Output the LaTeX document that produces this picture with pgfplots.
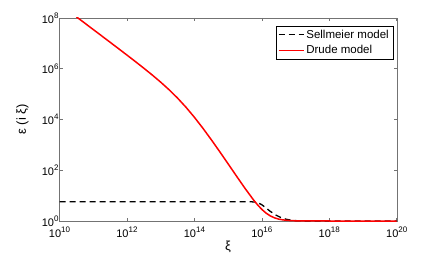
\documentclass[border=0pt]{standalone}
\usepackage{fontspec}
\setmainfont{Liberation Sans}
\usepackage{pgfplots}
\pgfplotsset{compat=1.18}
\newcommand\ex[1]{10\raisebox{0.42em}{\fontsize{8}{9}\selectfont #1}}
\begin{document}
\begin{tikzpicture}
\begin{axis}[name=ax,
  scale only axis, width=337.2pt, height=203pt,
  xmode=log, ymode=log,
  xmin=1e10, xmax=1e20, ymin=1, ymax=1e8,
  xtick={1e10,1e12,1e14,1e16,1e18,1e20},
  xticklabels={\ex{10},\ex{12},\ex{14},\ex{16},\ex{18},\ex{20}},
  ytick={1,1e2,1e4,1e6,1e8},
  yticklabels={\ex{0},\ex{2},\ex{4},\ex{6},\ex{8}},
  xminorticks=false, yminorticks=false,
  tick align=inside, major tick length=3pt,
  axis line style={black!55},
  every tick/.style={black!55, line width=0.6pt},
  tick label style={font=\fontsize{11}{12}\selectfont},
  xticklabel style={yshift=-2.5pt},
  yticklabel style={xshift=2.5pt},
  xlabel={ξ}, ylabel={ε (i ξ)},
  label style={font=\fontsize{13}{15}\selectfont},
  xlabel style={yshift=3pt},
  ylabel style={at={(axis description cs:-0.11,0.5)}, anchor=center, rotate=0},
  legend style={at={(0.989,0.962)}, anchor=north east, draw=black,
    font=\fontsize{11.5}{13}\selectfont, inner xsep=2pt, inner ysep=2pt, row sep=1.5pt},
  legend cell align=left,
  legend image code/.code={\draw[#1, line width=1.3pt] (0pt,0pt) -- (25pt,0pt);},
  clip=true,
]
\addplot[black, line width=1.3pt, dash pattern=on 6pt off 4pt] coordinates {
(1e10,5.70) (5.0119e15,5.70) (6.3096e15,5.56) (7.9433e15,5.13) (1e16,4.37)
(1.2589e16,3.47) (1.7783e16,2.40) (2.5119e16,1.76) (3.5481e16,1.40)
(5.0119e16,1.19) (7.0795e16,1.084) (1e17,1.035) (1.5849e17,1.012)
(3.1623e17,1.002) (1e20,1.0)
};
\addlegendentry{Sellmeier model}
\addplot[red, line width=1.5pt] coordinates {
(3.1623e10,1.115e8) (5.6234e10,6.268e7) (1e11,3.521e7) (1.7783e11,1.9776e7)
(3.1623e11,1.109e7) (5.6234e11,6.209e6) (1e12,3.463e6) (1.7783e12,1.920e6)
(3.1623e12,1.053e6) (5.6234e12,5.675e5) (1e13,2.970e5) (1.7783e13,1.4869e5)
(3.1623e13,6.998e4) (5.6234e13,3.050e4) (1e14,1.2251e4) (1.7783e14,4570)
(3.1623e14,1608) (5.6234e14,543.2) (1e15,179.2) (1.7783e15,58.63)
(3.1623e15,19.46) (5.6234e15,6.88) (7.4989e15,4.314) (1e16,2.867)
(1.3335e16,2.0513) (1.7783e16,1.592) (2.3714e16,1.3330) (3.1623e16,1.187)
(4.2170e16,1.1054) (5.6234e16,1.0593) (7.4989e16,1.0334) (1e17,1.0188)
(3.1623e17,1.0019) (1e18,1.0002) (1e20,1.0)
};
\addlegendentry{Drude model}
\end{axis}
\pgfresetboundingbox
\path[use as bounding box] ([xshift=-59.5pt,yshift=-39pt]ax.south west) rectangle ([xshift=39.3pt,yshift=18pt]ax.north east);
\end{tikzpicture}
\end{document}
